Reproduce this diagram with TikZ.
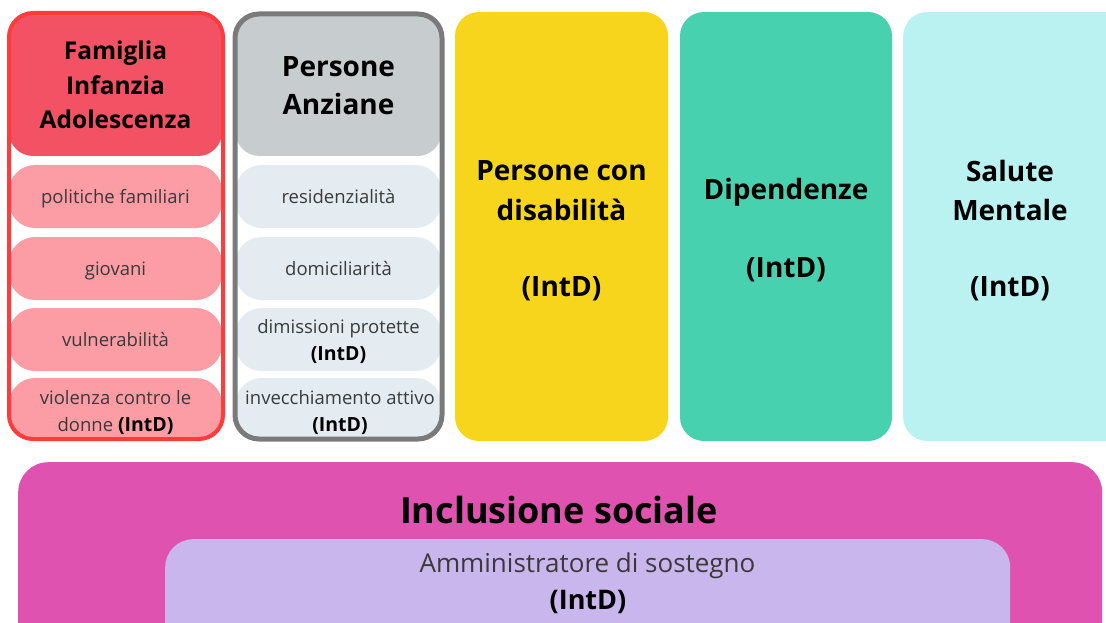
\documentclass[tikz,border=0pt]{standalone}
\usepackage{fontspec}
\setmainfont{Open Sans}
\definecolor{famborder}{HTML}{FF3B3B}
\definecolor{famhead}{HTML}{F25263}
\definecolor{famitem}{HTML}{FC9CA4}
\definecolor{anzborder}{HTML}{7A7A7A}
\definecolor{anzhead}{HTML}{C7CCCF}
\definecolor{anzitem}{HTML}{E4ECF1}
\definecolor{disyellow}{HTML}{F7D51D}
\definecolor{dipgreen}{HTML}{48D1AE}
\definecolor{salcyan}{HTML}{BAF2F2}
\definecolor{inclpink}{HTML}{E052B0}
\definecolor{amlilac}{HTML}{C9B6EC}
\definecolor{lighttext}{HTML}{3A3A3A}
\newcommand{\intd}{{\fontsize{19.5}{26}\selectfont\bfseries\color{black}(IntD)}}
\tikzset{
  colbox/.style={rectangle, rounded corners=24pt, inner sep=0pt, draw=none},
  pill/.style={rectangle, rounded corners=26pt, inner sep=0pt, draw=none, minimum width=213pt, minimum height=63pt},
  itemtext/.style={align=center, text=lighttext, font=\fontsize{18.5}{27}\selectfont, inner sep=0pt},
  headtext/.style={align=center, text=black, font=\fontsize{24.5}{34.5}\selectfont\bfseries, inner sep=0pt},
  bigtext/.style={align=center, text=black, font=\fontsize{28}{39.5}\selectfont\bfseries, inner sep=0pt},
}
\begin{document}
\begin{tikzpicture}[x=1pt,y=-1pt]
\useasboundingbox (0,0) rectangle (1106,623);
\clip (0,0) rectangle (1106,623);
% ---------- Column 1: Famiglia ----------
\node[pill, fill=famitem] (f1) at (115.5,196.5) {};
\node[pill, fill=famitem] (f2) at (115.5,268.5) {};
\node[pill, fill=famitem] (f3) at (115.5,339.5) {};
\node[pill, fill=famitem, minimum height=62pt] (f4) at (115.5,409) {};
\node[colbox, fill=famhead, minimum width=213pt, minimum height=143pt] (fh) at (115.5,84.5) {};
\node[colbox, draw=famborder, line width=4pt, minimum width=214pt, minimum height=426pt] (fb) at (116,226) {};
\node[headtext] (fht) at (115.5,85) {Famiglia\\Infanzia\\Adolescenza};
\node[itemtext] (f1t) at (115.5,199) {politiche familiari};
\node[itemtext] (f2t) at (115.5,270.5) {giovani};
\node[itemtext] (f3t) at (115.5,340) {vulnerabilità};
\node[itemtext] (f4t) at (115.5,413) {violenza contro le\\donne \intd};
% ---------- Column 2: Anziane ----------
\node[pill, fill=anzitem, minimum width=206pt] (a1) at (338.5,196.5) {};
\node[pill, fill=anzitem, minimum width=206pt] (a2) at (338.5,268.5) {};
\node[pill, fill=anzitem, minimum width=206pt] (a3) at (338.5,339.5) {};
\node[pill, fill=anzitem, minimum width=206pt, minimum height=62pt] (a4) at (338.5,409) {};
\node[colbox, fill=anzhead, minimum width=206pt, minimum height=143pt] (ah) at (338.5,84.5) {};
\node[colbox, draw=anzborder, line width=5pt, minimum width=207pt, minimum height=425pt] (ab) at (338.5,226.5) {};
\node[headtext, font=\fontsize{28}{38}\selectfont\bfseries] (aht) at (338.5,86) {Persone\\Anziane};
\node[itemtext] (a1t) at (338.5,196.5) {residenzialità};
\node[itemtext] (a2t) at (338.5,268.5) {domiciliarità};
\node[itemtext] (a3t) at (338.5,342) {dimissioni protette\\\intd};
\node[itemtext] (a4t) at (340,413) {invecchiamento attivo\\\intd};
% ---------- Column 3: Disabilita ----------
\node[colbox, fill=disyellow, minimum width=213pt, minimum height=429pt] (d) at (561.5,226.5) {};
\node[bigtext] (dt) at (561.5,190.5) {Persone con\\disabilità};
\node[bigtext] (di) at (561.5,289) {(IntD)};
% ---------- Column 4: Dipendenze ----------
\node[colbox, fill=dipgreen, minimum width=212pt, minimum height=429pt] (p) at (786,226.5) {};
\node[bigtext] (pt) at (786,192) {Dipendenze};
\node[bigtext] (pi) at (786,269.5) {(IntD)};
% ---------- Column 5: Salute mentale ----------
\node[colbox, fill=salcyan, minimum width=230pt, minimum height=429pt, anchor=west] (s) at (903,226.5) {};
\node[bigtext] (st) at (1010,190.5) {Salute\\Mentale};
\node[bigtext] (si) at (1010,289) {(IntD)};
% ---------- Inclusione sociale ----------
\node[colbox, fill=inclpink, rounded corners=30pt, minimum width=1084pt, minimum height=200pt, anchor=north west] (inc) at (18,462) {};
\node[bigtext, font=\fontsize{36}{40}\selectfont\bfseries] (inct) at (559,510) {Inclusione sociale};
\node[colbox, fill=amlilac, rounded corners=28pt, minimum width=845pt, minimum height=120pt, anchor=north west] (am) at (165,539) {};
\node[itemtext, font=\fontsize{26}{38}\selectfont] (amt) at (587.5,566) {Amministratore di sostegno};
\node[headtext, font=\fontsize{27}{30}\selectfont\bfseries] (ami) at (588,602) {(IntD)};
\end{tikzpicture}
\end{document}
